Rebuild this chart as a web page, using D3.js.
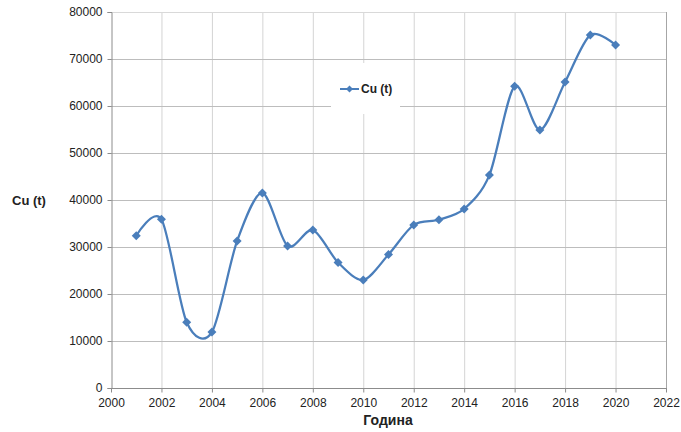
<!DOCTYPE html>
<html>
<head>
<meta charset="utf-8">
<script src="https://cdn.jsdelivr.net/npm/d3@7"></script>
<style>
  html, body { margin: 0; padding: 0; background: #fff; }
  text { font-family: "Liberation Sans", Arial, sans-serif; fill: #222; }
</style>
</head>
<body>
<svg id="chart" width="681" height="432"></svg>
<script>
// Annual copper output, tonnes
const years = [2001, 2002, 2003, 2004, 2005, 2006, 2007, 2008, 2009, 2010,
               2011, 2012, 2013, 2014, 2015, 2016, 2017, 2018, 2019, 2020];
const cuTonnes = [32400, 35900, 14000, 11900, 31300, 41500, 30200, 33600, 26700, 23000,
                  28400, 34700, 35800, 38100, 45300, 64200, 54900, 65100, 75100, 73000];
const xTicks = [2000, 2002, 2004, 2006, 2008, 2010, 2012, 2014, 2016, 2018, 2020, 2022];
const yTicks = [0, 10000, 20000, 30000, 40000, 50000, 60000, 70000, 80000];
const seriesName = "Cu (t)";
const xTitle = "Година";
const yTitle = "Cu (t)";

const svg = d3.select("#chart");
const plot = { left: 111, right: 666, top: 12, bottom: 388 };

const x = d3.scaleLinear().domain([2000, 2022]).range([plot.left, plot.right]);
const y = d3.scaleLinear().domain([0, 80000]).range([plot.bottom, plot.top]);

const blue = "#4a7ebb";
// square-proportioned diamond marker
const diamond = r => `M0,${-r}L${r},0L0,${r}L${-r},0Z`;

// gridlines
svg.append("g").selectAll("line.v").data(xTicks.slice(1)).join("line")
  .attr("x1", d => x(d) + 0.5).attr("x2", d => x(d) + 0.5)
  .attr("y1", plot.top).attr("y2", plot.bottom)
  .attr("stroke", d => d === 2022 ? "#a6a6a6" : "#d4d4d4").attr("stroke-width", 1);
svg.append("g").selectAll("line.h").data(yTicks.slice(1)).join("line")
  .attr("x1", plot.left).attr("x2", plot.right)
  .attr("y1", d => y(d) + 0.5).attr("y2", d => y(d) + 0.5)
  .attr("stroke", d => d === 80000 ? "#d9d9d9" : "#bdbdbd").attr("stroke-width", 1);

// axes
const xAxis = d3.axisBottom(x).tickValues(xTicks).tickFormat(d3.format("d")).tickSize(4).tickPadding(6);
const yAxis = d3.axisLeft(y).tickValues(yTicks).tickFormat(d3.format("d")).tickSize(4).tickPadding(5);

const gx = svg.append("g").attr("transform", `translate(0,${plot.bottom + 0.5})`).call(xAxis);
const gy = svg.append("g").attr("transform", `translate(${plot.left + 0.5},0)`).call(yAxis);
[gx, gy].forEach(g => {
  g.select(".domain").attr("stroke", "#8c8c8c");
  g.selectAll(".tick line").attr("stroke", "#8c8c8c");
  g.selectAll(".tick text").attr("font-size", 12).attr("fill", "#222")
    .attr("font-family", "'Liberation Sans', Arial, sans-serif");
});
gx.select(".domain").attr("d", `M${plot.left},0H${plot.right + 1}`);

// legend box (covers gridlines)
const lg = svg.append("g");
lg.append("rect").attr("x", 331).attr("y", 63).attr("width", 69).attr("height", 51).attr("fill", "#fff");
lg.append("line").attr("x1", 340).attr("x2", 359).attr("y1", 89).attr("y2", 89)
  .attr("stroke", blue).attr("stroke-width", 2);
lg.append("path").attr("d", diamond(3.5))
  .attr("transform", "translate(349.5,89)").attr("fill", blue);
lg.append("text").attr("x", 361).attr("y", 93).attr("font-size", 12).attr("font-weight", "bold")
  .text(seriesName);

// series
const pts = years.map((yr, i) => [yr, cuTonnes[i]]);
const line = d3.line().x(d => x(d[0])).y(d => y(d[1])).curve(d3.curveCardinal.tension(0.12));
svg.append("path").datum(pts).attr("d", line)
  .attr("fill", "none").attr("stroke", blue).attr("stroke-width", 2.25);
svg.append("g").selectAll("path").data(pts).join("path")
  .attr("d", diamond(4.5))
  .attr("transform", d => `translate(${x(d[0])},${y(d[1])})`)
  .attr("fill", blue);

// axis titles
svg.append("text").attr("x", 12).attr("y", 205).attr("font-size", 13).attr("font-weight", "bold")
  .text(yTitle);
svg.append("text").attr("x", 388).attr("y", 425).attr("text-anchor", "middle")
  .attr("font-size", 14).attr("font-weight", "bold").text(xTitle);
</script>
</body>
</html>
